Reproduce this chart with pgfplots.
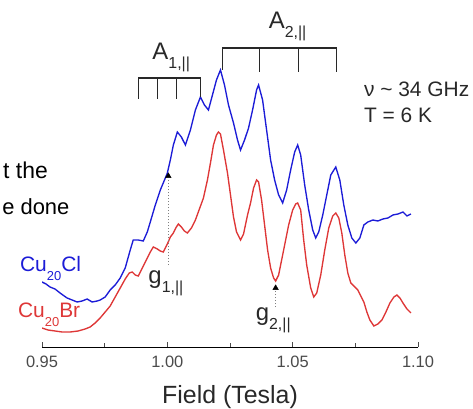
\documentclass[border=0pt]{standalone}
\usepackage{fontspec}
\setmainfont{Liberation Sans}
\usepackage{pgfplots}
\pgfplotsset{compat=1.18}

\definecolor{cublue}{RGB}{28,28,215}
\definecolor{cured}{RGB}{222,55,55}
\definecolor{axgray}{RGB}{75,75,75}
\definecolor{brk}{RGB}{40,40,40}
% size, text, drop below baseline
\newcommand{\lsub}[3]{\raisebox{-#3}{\fontsize{#1}{#1}\selectfont #2}}

\begin{document}
\begin{tikzpicture}
\useasboundingbox (-42bp,-62bp) rectangle (431bp,347bp);
\begin{axis}[
    scale only axis,
    width=376bp, height=347bp,
    xmin=0.95, xmax=1.10, ymin=0, ymax=347,
    axis x line*=bottom,
    axis y line=none,
    ytick=\empty,
    xtick={0.95,1.00,1.05,1.10},
    minor xtick={0.975,1.025,1.075},
    tick align=inside,
    major tick length=5bp, minor tick length=4bp,
    every axis x line/.style={draw=axgray, line width=0.9bp},
    every tick/.style={draw=axgray, line width=0.9bp},
    xticklabel style={font=\fontsize{16.5}{17}\selectfont, text=axgray, yshift=-6bp},
    /pgf/number format/.cd, fixed, fixed zerofill, precision=2, assume math mode=true,
    /pgfplots/.cd,
    xlabel={Field (Tesla)},
    xlabel style={font=\fontsize{25}{25}\selectfont, text=brk,
        at={(axis description cs:0.5,0)}, anchor=base, yshift=-56bp},
    clip mode=individual,
]

% Cu20Cl
\addplot[cublue, line width=1.35bp] coordinates {
(0.9500,65) (0.9516,63) (0.9532,60) (0.9552,58) (0.9572,54) (0.9600,49)
(0.9620,47) (0.9640,45) (0.9660,46) (0.9680,48) (0.9700,45) (0.9720,46)
(0.9732,47) (0.9752,50) (0.9772,57) (0.9792,62) (0.9812,69) (0.9832,79)
(0.9852,97) (0.9864,107) (0.9884,107) (0.9904,106) (0.9920,115) (0.9932,125)
(0.9952,142) (0.9972,157) (0.9992,169) (1.0000,174) (1.0012,187) (1.0024,202)
(1.0040,215) (1.0056,210) (1.0072,202) (1.0092,217) (1.0112,237) (1.0132,250)
(1.0148,242) (1.0164,237) (1.0180,252) (1.0196,267) (1.0212,277) (1.0228,262)
(1.0244,242) (1.0264,224) (1.0280,207) (1.0292,197) (1.0308,207) (1.0324,219)
(1.0340,237) (1.0356,257) (1.0364,262) (1.0380,247) (1.0396,217) (1.0412,187)
(1.0428,167) (1.0444,152) (1.0460,144) (1.0476,157) (1.0492,177) (1.0508,195)
(1.0520,202) (1.0532,192) (1.0548,162) (1.0564,137) (1.0580,117) (1.0592,109)
(1.0604,115) (1.0620,132) (1.0636,152) (1.0652,172) (1.0672,180) (1.0688,167)
(1.0704,142) (1.0720,122) (1.0736,109) (1.0752,104) (1.0768,109) (1.0784,122)
(1.0800,125) (1.0820,127) (1.0840,126) (1.0860,128) (1.0880,129) (1.0900,132)
(1.0920,133) (1.0940,135) (1.0956,131) (1.0972,133)
};

% Cu20Br
\addplot[cured, line width=1.35bp] coordinates {
(0.9500,19) (0.9524,17) (0.9552,16) (0.9580,15) (0.9612,15) (0.9644,16)
(0.9672,18) (0.9692,20) (0.9712,24) (0.9732,29) (0.9752,35) (0.9772,41)
(0.9792,50) (0.9812,59) (0.9832,68) (0.9848,74) (0.9860,75) (0.9872,72)
(0.9884,71) (0.9900,79) (0.9916,87) (0.9932,95) (0.9944,100) (0.9960,98)
(0.9972,96) (0.9984,95) (1.0000,103) (1.0012,110) (1.0024,114) (1.0036,120)
(1.0044,123) (1.0056,120) (1.0068,116) (1.0080,114) (1.0096,119) (1.0112,127)
(1.0128,138) (1.0144,149) (1.0160,167) (1.0172,184) (1.0184,202) (1.0196,212)
(1.0204,215) (1.0212,213) (1.0224,197) (1.0240,174) (1.0252,152) (1.0264,130)
(1.0276,115) (1.0292,107) (1.0304,113) (1.0320,132) (1.0332,144) (1.0344,159)
(1.0356,167) (1.0364,165) (1.0376,147) (1.0388,122) (1.0400,97) (1.0412,79)
(1.0424,69) (1.0432,66) (1.0444,72) (1.0456,87) (1.0468,102) (1.0484,122)
(1.0500,137) (1.0512,143) (1.0520,144) (1.0532,137) (1.0544,107) (1.0556,82)
(1.0572,59) (1.0584,50) (1.0596,54) (1.0612,72) (1.0628,97) (1.0644,119)
(1.0660,131) (1.0672,134) (1.0684,129) (1.0696,114) (1.0708,92) (1.0720,74)
(1.0732,64) (1.0748,60) (1.0760,57) (1.0772,51) (1.0784,45) (1.0796,35)
(1.0808,27) (1.0824,21) (1.0840,23) (1.0856,27) (1.0872,35) (1.0888,44)
(1.0904,50) (1.0916,52) (1.0928,49) (1.0940,44) (1.0956,38) (1.0972,34)
};

% g markers
\draw[gray, dotted, line width=1bp] (axis cs:1.0004,82) -- (axis cs:1.0004,168);
\draw[gray, dotted, line width=1bp] (axis cs:1.0432,40) -- (axis cs:1.0432,56);
\addplot[only marks, mark=triangle*, mark size=3.2bp, black] coordinates {(1.0004,171) (1.0432,59)};

% A1 bracket
\draw[brk, line width=1.1bp] (axis cs:0.9884,248) -- (axis cs:0.9884,269) -- (axis cs:1.0132,269) -- (axis cs:1.0132,250);
\draw[brk, line width=1.1bp] (axis cs:0.9960,269) -- (axis cs:0.9960,248);
\draw[brk, line width=1.1bp] (axis cs:1.0036,269) -- (axis cs:1.0036,248);
% A2 bracket
\draw[brk, line width=1.1bp] (axis cs:1.0220,277) -- (axis cs:1.0220,299) -- (axis cs:1.0676,299) -- (axis cs:1.0676,275);
\draw[brk, line width=1.1bp] (axis cs:1.0368,299) -- (axis cs:1.0368,275);
\draw[brk, line width=1.1bp] (axis cs:1.0524,299) -- (axis cs:1.0524,275);

\node[anchor=base west, inner sep=0, text=brk, font=\fontsize{24}{24}\selectfont] at (axis cs:0.9940,287) {A\lsub{16}{1,||}{9bp}};
\node[anchor=base west, inner sep=0, text=brk, font=\fontsize{24}{24}\selectfont] at (axis cs:1.0404,318) {A\lsub{16}{2,||}{9bp}};
\node[anchor=base west, inner sep=0, text=brk, font=\fontsize{24}{24}\selectfont] at (axis cs:0.9924,64) {g\lsub{16}{1,||}{9bp}};
\node[anchor=base west, inner sep=0, text=brk, font=\fontsize{24}{24}\selectfont] at (axis cs:1.0352,27) {g\lsub{16}{2,||}{9bp}};

\node[anchor=base west, inner sep=0, text=brk, font=\fontsize{21}{21}\selectfont] at (axis cs:1.0784,250) {ν \textasciitilde{} 34 GHz};
\node[anchor=base west, inner sep=0, text=brk, font=\fontsize{21}{21}\selectfont] at (axis cs:1.0784,224) {T = 6 K};

\node[anchor=base west, inner sep=0, text=cublue, font=\fontsize{21}{21}\selectfont] at (axis cs:0.9412,76) {Cu\lsub{13}{20}{9bp}Cl};
\node[anchor=base west, inner sep=0, text=cured, font=\fontsize{21}{21}\selectfont] at (axis cs:0.9404,30) {Cu\lsub{13}{20}{9bp}Br};

% cropped slide text on the left
\node[anchor=base east, inner sep=0, text=black, font=\fontsize{23}{23}\selectfont] at (axis cs:0.9524,168) {t the};
\node[anchor=base east, inner sep=0, text=black, font=\fontsize{22}{22}\selectfont] at (axis cs:0.9610,132) {e done};
\end{axis}
\end{tikzpicture}
\end{document}
